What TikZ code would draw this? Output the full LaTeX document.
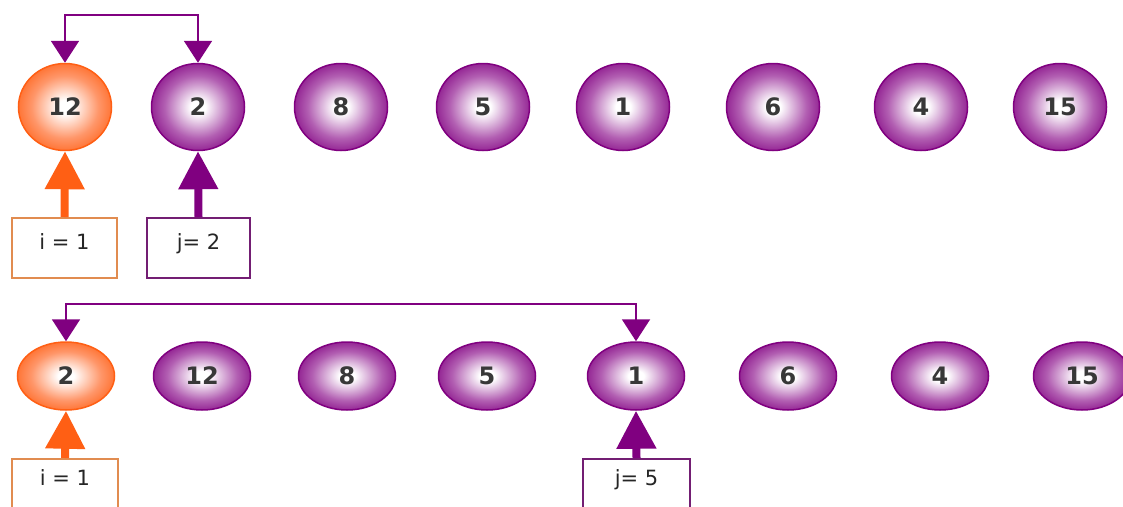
\documentclass[tikz,border=0pt]{standalone}
\usepackage{fontspec}
\setmainfont{DejaVu Sans}
\usetikzlibrary{arrows.meta,shapes.geometric}
\definecolor{pdark}{RGB}{128,0,128}
\definecolor{pmid}{RGB}{178,95,178}
\definecolor{odark}{RGB}{255,95,20}
\definecolor{omid}{RGB}{255,150,105}
\definecolor{obox}{RGB}{225,140,80}
\definecolor{pbox}{RGB}{115,30,115}
\pgfdeclareradialshading{purpball}{\pgfpoint{0bp}{0bp}}{color(0bp)=(white); color(4bp)=(white); color(18bp)=(pmid); color(30bp)=(pdark); color(50bp)=(pdark)}
\pgfdeclareradialshading{orgball}{\pgfpoint{0bp}{0bp}}{color(0bp)=(white); color(4bp)=(white); color(18bp)=(omid); color(30bp)=(odark); color(50bp)=(odark)}
\tikzset{
  ball/.style={ellipse, inner sep=0pt, line width=1.5pt, font=\fontsize{24}{26}\selectfont\bfseries, text=black!78},
  pball/.style={ball, draw=pdark, shading=purpball},
  oball/.style={ball, draw=odark, shading=orgball},
  topsize/.style={minimum width=93pt, minimum height=87pt},
  botsize/.style={minimum width=97pt, minimum height=68pt},
  idxbox/.style={rectangle, anchor=north, inner xsep=0pt, inner ysep=0pt, line width=1.5pt, font=\fontsize{21}{23}\selectfont, text=black!85},
  topbox/.style={idxbox, text height=32pt, text depth=28pt},
  botbox/.style={idxbox, text height=27pt, text depth=33pt},
  swaparrow/.style={draw=pdark, line width=2pt, {Triangle[width=28pt,length=22pt]}-{Triangle[width=28pt,length=22pt]}},
  upO/.style={draw=odark, line width=8pt, -{Triangle[width=38pt,length=38pt]}},
  upP/.style={draw=pdark, line width=8pt, -{Triangle[width=38pt,length=38pt]}}
}
\begin{document}
\begin{tikzpicture}[x=1pt,y=-1pt]
\useasboundingbox (0,0) rectangle (1123,506);
\clip (0,0) rectangle (1123,506);
\fill[white] (0,0) rectangle (1123,506);
% top row
\node[oball,topsize] (t1) at (65,107) {12};
\node[pball,topsize] (t2) at (198,107) {2};
\node[pball,topsize] (t3) at (341,107) {8};
\node[pball,topsize] (t4) at (483,107) {5};
\node[pball,topsize] (t5) at (623,107) {1};
\node[pball,topsize] (t6) at (773,107) {6};
\node[pball,topsize] (t7) at (921,107) {4};
\node[pball,topsize] (t8) at (1060,107) {15};
\node[topbox, draw=obox, minimum width=105pt] (ti) at (64.5,217) {i = 1};
\node[topbox, draw=pbox, minimum width=103pt] (tj) at (198.5,217) {j= 2};
\draw[swaparrow] (t1.north) -- ++(0,-48) -| (t2.north);
\draw[upO] (ti.north) -- (t1.south);
\draw[upP] (tj.north) -- (t2.south);
% bottom row
\node[oball,botsize] (b1) at (66,376) {2};
\node[pball,botsize] (b2) at (202,376) {12};
\node[pball,botsize] (b3) at (347,376) {8};
\node[pball,botsize] (b4) at (487,376) {5};
\node[pball,botsize] (b5) at (636,376) {1};
\node[pball,botsize] (b6) at (788,376) {6};
\node[pball,botsize] (b7) at (940,376) {4};
\node[pball,botsize] (b8) at (1082,376) {15};
\node[botbox, draw=obox, minimum width=106pt] (bi) at (65,458) {i = 1};
\node[botbox, draw=pbox, minimum width=107pt] (bj) at (636.5,458) {j= 5};
\draw[swaparrow] (b1.north) -- ++(0,-37) -| (b5.north);
\draw[upO] (bi.north) -- (b1.south);
\draw[upP] (bj.north) -- (b5.south);
\end{tikzpicture}
\end{document}
